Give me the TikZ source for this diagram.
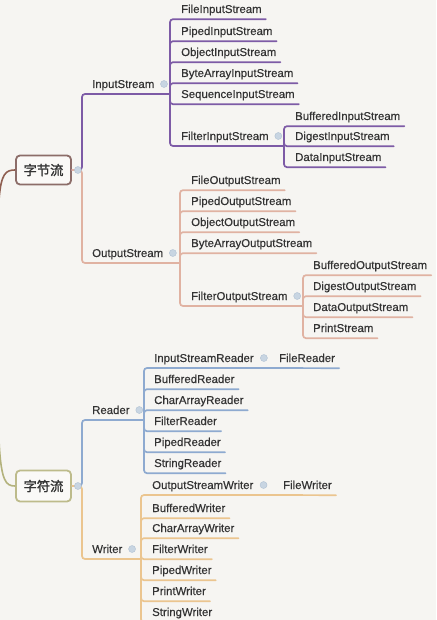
\documentclass[tikz,border=0pt]{standalone}
\usepackage{fontspec}
\setmainfont{Liberation Sans}[FakeBold=0.35]
\newfontfamily\cjk[AutoFakeBold=1.6]{Noto Sans CJK SC}
\definecolor{purp}{HTML}{7D5BA6}
\definecolor{salm}{HTML}{E0B2A2}
\definecolor{blu}{HTML}{8EAAD0}
\definecolor{tan}{HTML}{EBC58F}
\definecolor{rac}{HTML}{8C6D69}
\definecolor{rbc}{HTML}{BDBB8B}
\definecolor{cva}{HTML}{8F5E50}
\definecolor{cvb}{HTML}{B3B27C}
\definecolor{bg}{HTML}{F6F5F2}
\definecolor{boxfill}{HTML}{FAF9F7}
\definecolor{txt}{HTML}{333333}
\definecolor{mk}{HTML}{C8D5E2}
\definecolor{mkd}{HTML}{AFC0D2}
\begin{document}
\begin{tikzpicture}[x=1pt,y=-1pt,
  leaf/.style={anchor=base west, inner xsep=0pt, inner ysep=3.5pt, text height=8.5pt, text depth=2.5pt, font=\fontsize{11.4}{13}\selectfont, text=txt},
  rootbox/.style={draw, line width=1.8pt, rounded corners=4pt, fill=boxfill, minimum width=55pt, minimum height=29pt, inner sep=0pt, font=\cjk\bfseries\fontsize{13.3}{15}\selectfont, text=txt},
  marker/.style={circle, fill=mk, draw=mkd, line width=0.4pt, inner sep=0pt, minimum size=7pt},
  br/.style={line width=1.7pt, rounded corners=3pt, line cap=round}]
\fill[bg] (0,0) rectangle (436,620);
\useasboundingbox (0,0) rectangle (436,620);

% ---------- byte streams ----------
\node[rootbox, draw=rac] (zj) at (43.5,170) {字节流};
\coordinate (jzj) at (82,170);

\node[leaf] (is) at (92,88) {InputStream};
\coordinate (jis) at (170,94);
\node[leaf] (fis)  at (181,13)  {FileInputStream};
\node[leaf] (pis)  at (181,35)  {PipedInputStream};
\node[leaf] (ois)  at (181,56)  {ObjectInputStream};
\node[leaf] (bais) at (181,77)  {ByteArrayInputStream};
\node[leaf] (sis)  at (181,98)  {SequenceInputStream};
\node[leaf] (fltis) at (181,140) {FilterInputStream};
\coordinate (jfltis) at (284,146);
\node[leaf] (bfis) at (295,120) {BufferedInputStream};
\node[leaf] (dgis) at (295,140) {DigestInputStream};
\node[leaf] (dtis) at (295,161) {DataInputStream};

\node[leaf] (os) at (92,257) {OutputStream};
\coordinate (jos) at (180,263);
\node[leaf] (fos)  at (191,184) {FileOutputStream};
\node[leaf] (pos)  at (191,205) {PipedOutputStream};
\node[leaf] (oos)  at (191,226) {ObjectOutputStream};
\node[leaf] (baos) at (191,247) {ByteArrayOutputStream};
\node[leaf] (fltos) at (191,300) {FilterOutputStream};
\coordinate (jfltos) at (303,306);
\node[leaf] (bfos) at (313,269) {BufferedOutputStream};
\node[leaf] (dgos) at (313,290) {DigestOutputStream};
\node[leaf] (dtos) at (313,311) {DataOutputStream};
\node[leaf] (prs)  at (313,332) {PrintStream};

% ---------- char streams ----------
\node[rootbox, draw=rbc, minimum height=31pt] (zf) at (43.5,486) {字符流};
\coordinate (jzf) at (82,486);

\node[leaf] (rd) at (92,414) {Reader};
\coordinate (jrd) at (144,420);
\node[leaf] (isr) at (154,362) {InputStreamReader};
\coordinate (jisr) at (269,368);
\node[leaf] (frd) at (279,362) {FileReader};
\node[leaf] (brd) at (154,383) {BufferedReader};
\node[leaf] (crd) at (154,404) {CharArrayReader};
\node[leaf] (ftrd) at (154,425) {FilterReader};
\node[leaf] (prd) at (154,446) {PipedReader};
\node[leaf] (srd) at (154,467) {StringReader};

\node[leaf] (wr) at (92,553) {Writer};
\coordinate (jwr) at (141,559);
\node[leaf] (osw) at (152,489) {OutputStreamWriter};
\coordinate (josw) at (273,495);
\node[leaf] (fwr) at (283,489) {FileWriter};
\node[leaf] (bwr) at (152,512) {BufferedWriter};
\node[leaf] (cwr) at (152,532) {CharArrayWriter};
\node[leaf] (ftwr) at (152,553) {FilterWriter};
\node[leaf] (pwr) at (152,574) {PipedWriter};
\node[leaf] (prw) at (152,595) {PrintWriter};
\node[leaf] (swr) at (152,616) {StringWriter};

% ---------- incoming curves ----------
\coordinate (ina) at (-1,200);
\coordinate (inb) at (-1,440);
\draw[cva, line width=1.6pt] (ina) .. controls (1,173) and (6,170) .. (zj.west);
\draw[cvb, line width=1.6pt] (inb) .. controls (1,482) and (6,486) .. (zf.west);

% ---------- connectors ----------
\draw[br, purp] (zj.east) -- (jzj) |- (jis);
\foreach \c in {fis,pis,ois,bais,sis}
  \draw[br, purp] (jis) |- ([xshift=4pt]\c.south east);
\draw[br, purp] (jis) |- (jfltis);
\foreach \c in {bfis,dgis,dtis}
  \draw[br, purp] (jfltis) |- ([xshift=4pt]\c.south east);

\draw[br, salm] (zj.east) -- (jzj) |- (jos);
\foreach \c in {fos,pos,oos,baos}
  \draw[br, salm] (jos) |- ([xshift=4pt]\c.south east);
\draw[br, salm] (jos) |- (jfltos);
\foreach \c in {bfos,dgos,dtos,prs}
  \draw[br, salm] (jfltos) |- ([xshift=4pt]\c.south east);

\draw[br, blu] (zf.east) -- (jzf) |- (jrd);
\draw[br, blu] (jrd) |- (jisr);
\draw[br, blu] (jisr) -- ([xshift=4pt]frd.south east);
\foreach \c in {brd,crd,ftrd,prd,srd}
  \draw[br, blu] (jrd) |- ([xshift=4pt]\c.south east);

\draw[br, tan] (zf.east) -- (jzf) |- (jwr);
\draw[br, tan] (jwr) |- (josw);
\draw[br, tan] (josw) -- ([xshift=4pt]fwr.south east);
\foreach \c in {bwr,cwr,ftwr,pwr,prw,swr}
  \draw[br, tan] (jwr) |- ([xshift=4pt]\c.south east);

% ---------- collapse markers ----------
\node[marker] (mzj) at ([xshift=6pt]zj.east) {};
\node[marker] (mzf) at ([xshift=6pt]zf.east) {};
\node[marker] (mis) at ([xshift=9.5pt,yshift=1pt]is.east) {};
\node[marker] (mfltis) at ([xshift=9.5pt,yshift=1pt]fltis.east) {};
\node[marker] (mos) at ([xshift=9.5pt,yshift=1pt]os.east) {};
\node[marker] (mfltos) at ([xshift=9.5pt,yshift=1pt]fltos.east) {};
\node[marker] (mrd) at ([xshift=9.5pt,yshift=1pt]rd.east) {};
\node[marker] (misr) at ([xshift=10pt,yshift=1pt]isr.east) {};
\node[marker] (mwr) at ([xshift=9.5pt,yshift=1pt]wr.east) {};
\node[marker] (mosw) at ([xshift=10pt,yshift=1pt]osw.east) {};
\end{tikzpicture}
\end{document}
